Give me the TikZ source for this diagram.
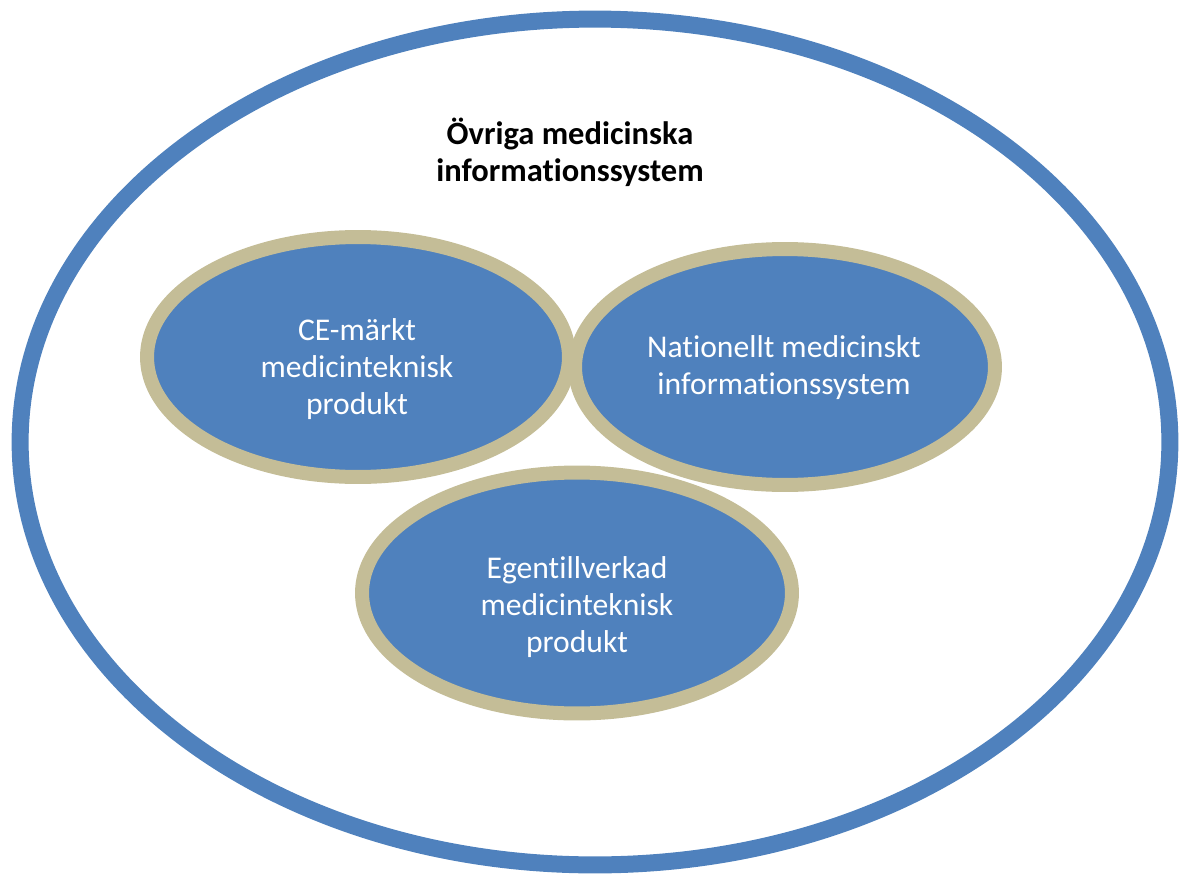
\documentclass[tikz,border=0pt]{standalone}
\usepackage{fontspec}
\setmainfont[Ligatures={NoCommon}]{Carlito}
\usetikzlibrary{shapes.geometric}
\definecolor{ovalblue}{HTML}{4F81BD}
\definecolor{ovaltan}{HTML}{C4BD97}

\begin{document}
\begin{tikzpicture}[x=0.02cm, y=-0.02cm, thick,
  outer oval/.style={ellipse,draw=ovalblue,line width=0.34cm,inner sep=0pt,minimum width=23cm,minimum height=16.92cm},
  main oval/.style={ellipse,draw=ovaltan,fill=ovalblue,line width=0.28cm,inner sep=0pt},
  oval text/.style={align=center,text=white,font=\fontsize{18}{21}\selectfont},
  title text/.style={align=center,font=\fontsize{18.5}{21}\selectfont\bfseries}]
\useasboundingbox (0,0) rectangle (1181,876);
\node[outer oval](all) at (595,442){};
\node[title text](title) at (570,152){Övriga medicinska\\informationssystem};
\node[main oval,minimum width=8.44cm,minimum height=4.8cm](ce) at (358,357){};
\node[main oval,minimum width=8.4cm,minimum height=4.72cm](nat) at (785,367){};
\node[main oval,minimum width=8.6cm,minimum height=4.82cm](egen) at (577,593){};
\node[oval text](ce text) at (357,369){CE-märkt\\medicinteknisk\\produkt};
\node[oval text](nat text) at (784,368){Nationellt medicinskt\\informationssystem};
\node[oval text](egen text) at (577,607){Egentillverkad\\medicinteknisk\\produkt};
\end{tikzpicture}
\end{document}
